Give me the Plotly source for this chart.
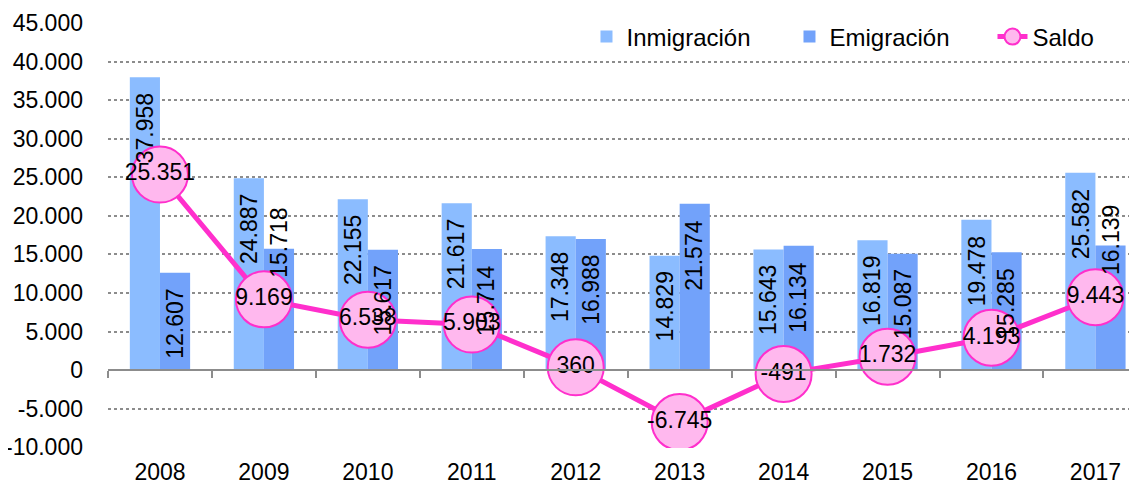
import plotly.graph_objects as go

years = ["2008", "2009", "2010", "2011", "2012", "2013", "2014", "2015", "2016", "2017"]
inmigracion = [37958, 24887, 22155, 21617, 17348, 14829, 15643, 16819, 19478, 25582]
emigracion = [12607, 15718, 15617, 15714, 16988, 21574, 16134, 15087, 15285, 16139]
saldo = [25351, 9169, 6538, 5903, 360, -6745, -491, 1732, 4193, 9443]
tick_vals = [-10000, -5000, 0, 5000, 10000, 15000, 20000, 25000, 30000, 35000, 40000, 45000]
# Emigración labels that sit across the top of their bar instead of inside it
emig_raised = ["2009", "2017"]


def fmt(v):
    return f"{v:,}".replace(",", ".")


tick_text = [fmt(v) for v in tick_vals]
FONT = "Liberation Sans, Arial, sans-serif"
FS = 23
XR = [-0.5, 9.4]

fig = go.Figure()
fig.add_trace(go.Bar(
    name="Inmigración", x=years, y=inmigracion,
    marker=dict(color="#8BBCFF", line=dict(width=0)),
))
fig.add_trace(go.Bar(
    name="Emigración", x=years, y=emigracion,
    marker=dict(color="#72A2FA", line=dict(width=0)),
))
fig.add_trace(go.Scatter(
    name="Saldo", x=years, y=saldo, mode="lines+markers+text",
    line=dict(color="#FF2FCC", width=5),
    marker=dict(size=56, color="#FFB8EE", line=dict(color="#FF2FCC", width=2)),
    text=[fmt(v) for v in saldo], textposition="middle center",
    textfont=dict(color="black", size=FS, family=FONT),
))
# axis line at zero with boundary ticks
fig.add_trace(go.Scatter(x=years, y=[None] * len(years), xaxis="x2",
                         showlegend=False, hoverinfo="skip"))

# bar value labels (drawn above all series, as in the original)
annotations = []
for i, v in enumerate(inmigracion):
    annotations.append(dict(x=i, y=v, xref="x", yref="y", text=fmt(v), showarrow=False,
                            textangle=-90, xshift=-15, yanchor="top", yshift=-14,
                            font=dict(size=FS, family=FONT, color="black")))
for i, v in enumerate(emigracion):
    raised = years[i] in emig_raised
    annotations.append(dict(x=i, y=v, xref="x", yref="y", text=fmt(v), showarrow=False,
                            textangle=-90, xshift=15,
                            yanchor="middle" if raised else "top",
                            yshift=6 if raised else -14,
                            font=dict(size=FS, family=FONT, color="black")))

fig.update_layout(
    width=1137, height=490,
    margin=dict(l=100, r=8, t=15, b=50, autoexpand=False),
    paper_bgcolor="white", plot_bgcolor="white",
    font=dict(family=FONT, size=FS, color="black"),
    barmode="group", bargap=0.42, bargroupgap=0,
    showlegend=True,
    annotations=annotations,
    legend=dict(orientation="h", x=0.465, xanchor="left", y=1.02, yanchor="top",
                font=dict(size=FS + 1, family=FONT), bgcolor="rgba(255,255,255,0)",
                traceorder="normal", entrywidth=158, entrywidthmode="pixels"),
    xaxis=dict(type="category", categoryarray=years, showgrid=False, zeroline=False,
               showline=False, ticks="", ticklabelstandoff=8, automargin=False,
               range=XR),
    xaxis2=dict(type="category", categoryarray=years, overlaying="x", anchor="free",
                position=10100 / 55100, side="bottom", showline=True, linecolor="#8C8C8C",
                linewidth=2, ticks="outside", tickson="boundaries", ticklen=7,
                tickcolor="#8C8C8C", tickwidth=2, showticklabels=False, showgrid=False,
                automargin=False, range=XR),
    yaxis=dict(range=[-10100, 45000], tickvals=tick_vals, ticktext=tick_text,
               showgrid=True, gridcolor="#8C8C8C", griddash="dot", gridwidth=1.5,
               zeroline=False, showline=False, ticks="", ticklabelstandoff=24,
               automargin=False),
)

fig.write_html("out.html")
